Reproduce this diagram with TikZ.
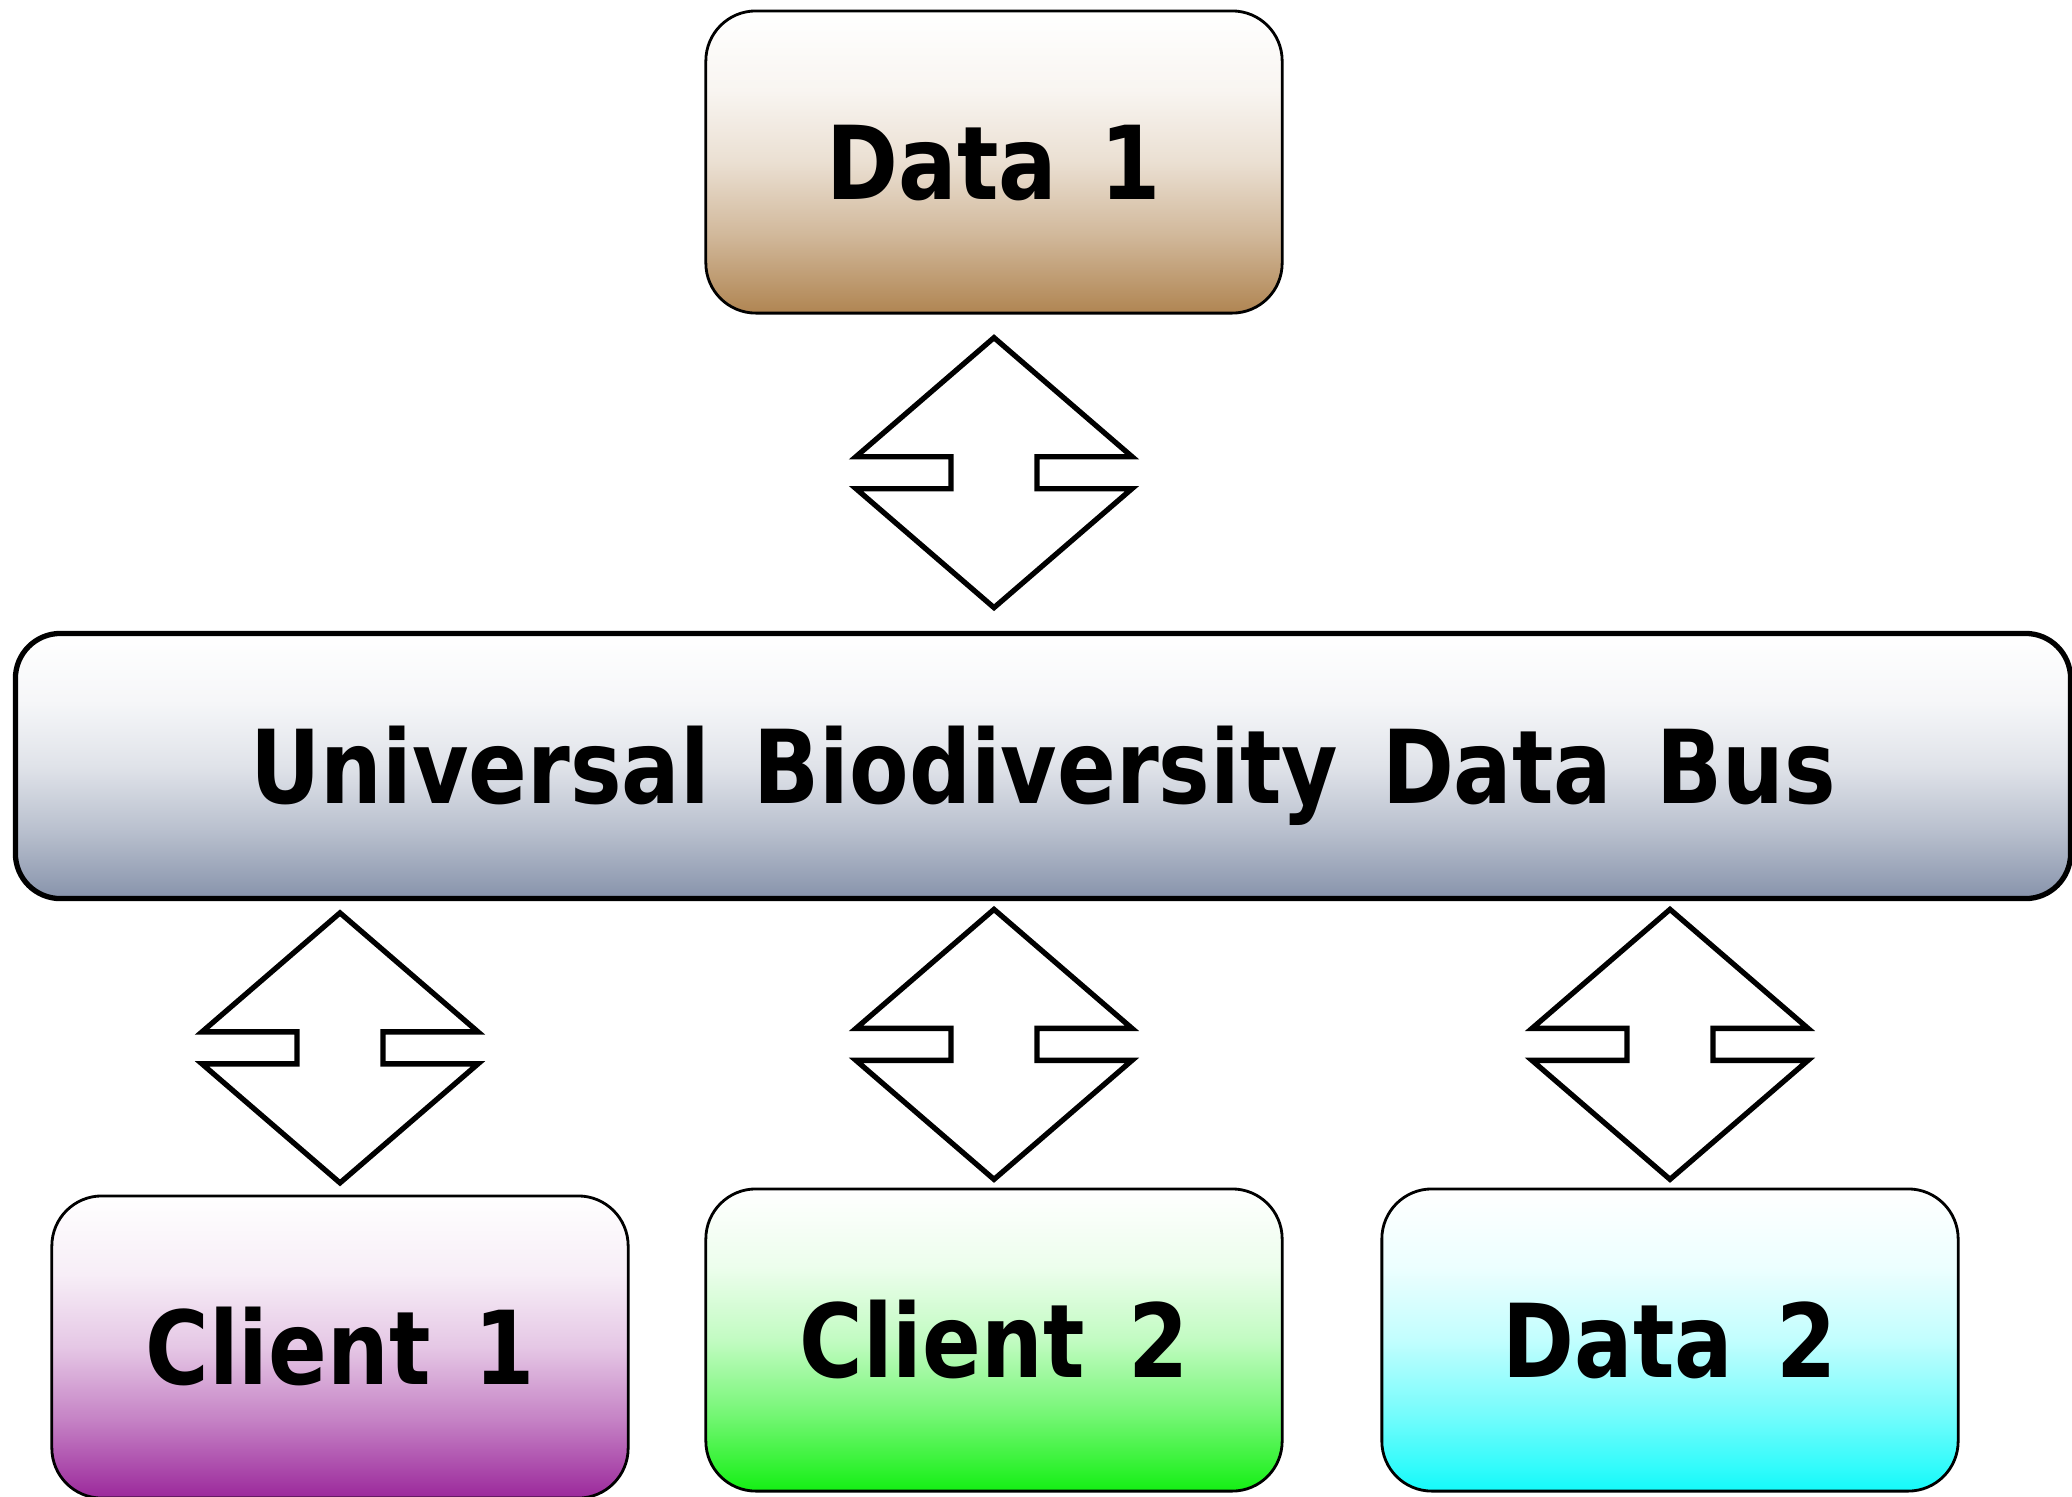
\documentclass[tikz,border=0pt]{standalone}
\usepackage{fontspec}
\setmainfont{DejaVu Sans}[FakeStretch=0.85, WordSpace=1.45]
\usetikzlibrary{positioning, calc}

\definecolor{soil}{RGB}{176,133,82}
\definecolor{slate}{RGB}{135,147,171}
\definecolor{plum}{RGB}{155,40,155}
\definecolor{leaf}{RGB}{20,240,20}
\definecolor{aqua}{RGB}{20,250,250}
\colorlet{tint}{white}

% white top, colour rising towards the bottom
\pgfdeclareverticalshading[tint]{fade}{100bp}{color(0bp)=(tint); color(25bp)=(tint);
  color(38bp)=(tint!58); color(50bp)=(tint!26); color(62bp)=(tint!8);
  color(75bp)=(white); color(100bp)=(white)}

\begin{document}
\begin{tikzpicture}[
  x=0.01cm, y=-0.01cm,
  shade with/.style={/utils/exec={\colorlet{tint}{#1}}, shading=fade},
  box/.style={draw, line width=0.8pt, rounded corners=0.5cm, minimum width=5.76cm, minimum height=3.02cm,
    shade with=#1, text height=0.74cm, text depth=0pt, font=\fontsize{29}{34}\selectfont\bfseries},
  bus/.style={draw, line width=1.5pt, rounded corners=0.45cm, minimum width=20.54cm, minimum height=2.65cm,
    shade with=slate, text height=0.74cm, text depth=0pt, font=\fontsize{29}{34}\selectfont\bfseries},
  arr/.style={draw, line width=1.5pt, fill=white, line join=miter},
  duplex/.pic={
    \path[arr] (0,-135) -- (138,-16) -- (43,-16) -- (43,16) -- (138,16) -- (0,135)
      -- (-138,16) -- (-43,16) -- (-43,-16) -- (-138,-16) -- cycle;
  }
]
  \useasboundingbox (0,0) rectangle (2072,1496);

  % Bus and attached components
  \node[bus] (bus) at (1043,766) {Universal Biodiversity Data Bus};
  \node[box=soil] (data1) at (994,162) {Data 1};
  \node[box=plum] (client1) at (340,1347) {Client 1};
  \node[box=leaf] (client2) at (994,1340) {Client 2};
  \node[box=aqua] (data2) at (1670,1340) {Data 2};

  % Two-way arrows
  \pic at ($(data1.south)!0.5!(bus.north -| data1.south)$) {duplex};
  \pic at ($(client1.north)!0.5!(bus.south -| client1.north)$) {duplex};
  \pic at ($(client2.north)!0.5!(bus.south -| client2.north)$) {duplex};
  \pic at ($(data2.north)!0.5!(bus.south -| data2.north)$) {duplex};

\end{tikzpicture}
\end{document}
